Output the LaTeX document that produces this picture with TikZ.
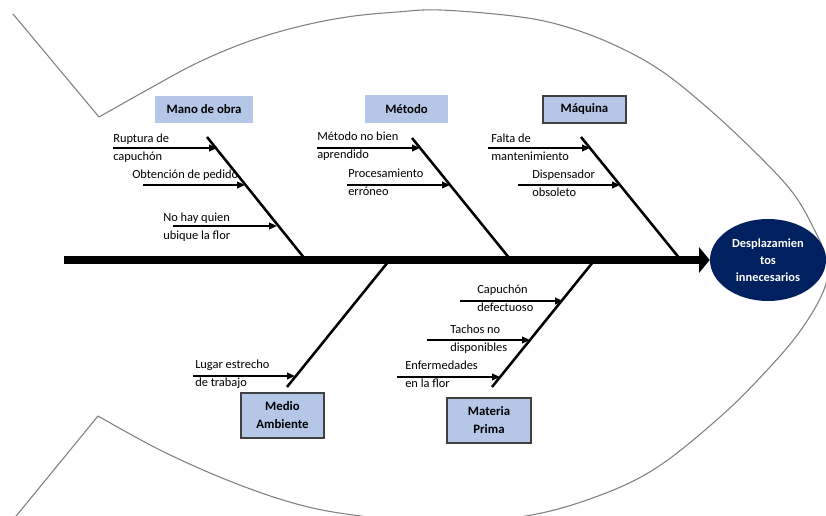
\documentclass[tikz,border=0pt]{standalone}
\usepackage{fontspec}
\setmainfont{Carlito}
\usetikzlibrary{arrows.meta,shapes.geometric}

\definecolor{catfill}{RGB}{180,199,231}
\definecolor{headfill}{RGB}{0,32,96}
\definecolor{fishline}{RGB}{128,128,128}
\definecolor{boxedge}{RGB}{64,64,64}

\begin{document}
\begin{tikzpicture}[x=0.75pt,y=-0.75pt,
  cause/.style={font=\fontsize{9.3}{13.5}\selectfont, align=left, anchor=west, inner sep=0pt},
  category/.style={fill=catfill, font=\bfseries\fontsize{9.6}{13.5}\selectfont, align=center, inner sep=0pt},
  framed/.style={draw=boxedge, line width=0.8pt},
  bone/.style={line width=1.9pt},
  subarrow/.style={line width=1.5pt, -{Triangle[length=6pt,width=5pt]}},
  fishbody/.style={draw=fishline, line width=0.8pt}
]
\useasboundingbox (0,0) rectangle (826,516);
\fill[white] (0,0) rectangle (826,516);
\clip (0,0) rectangle (826,516);

% ---- fish outline: tail strokes and body ----
\draw[fishbody] (13,14) -- (99,117);
\draw[fishbody] (98,416) -- (8,526);
\draw[fishbody] plot[smooth, tension=0.6] coordinates {
  (99,117) (147,90) (197,63) (247,42) (297,27) (347,17) (397,12) (440,10)
  (513,16) (560,25) (610,43) (660,70) (710,110) (760,157) (793,193)
  (813,227) (826,258) (825,287) (803,327) (770,367) (720,417) (653,470)
  (587,500) (520,517) (440,523) (353,515) (293,503) (227,480) (160,450) (98,416)};

% ---- head (effect) ----
\node[ellipse, fill=headfill, minimum width=87pt, minimum height=61.5pt, inner sep=0pt,
      text=white, font=\bfseries\fontsize{9.3}{12.75}\selectfont, align=center]
  (head) at (768,260) {Desplazamien\\tos\\innecesarios};

% ---- spine ----
\coordinate (tail) at (64,260);
\draw[line width=6pt, -{Triangle[length=8pt,width=19pt]}] (tail) -- (head.west);

% ---- category boxes ----
\node[category, minimum width=73.5pt, minimum height=20.25pt] (mano) at (204,109.5) {Mano de obra};
\node[category, minimum width=62.25pt, minimum height=21pt] (metodo) at (406.5,109) {Método};
\node[category, framed, minimum width=62.25pt, minimum height=20.25pt] (maquina) at (584.5,109.5) {Máquina};
\node[category, framed, minimum width=62.25pt, minimum height=33.75pt] (medio) at (282.5,415.5) {Medio\\Ambiente};
\node[category, framed, minimum width=63pt, minimum height=33.75pt] (materia) at (489,420.5) {Materia\\Prima};

% ---- main bones ----
\coordinate (manoTop) at (207,137);   \coordinate (manoEnd) at (305,259);
\coordinate (metTop) at (412,138);    \coordinate (metEnd) at (510,259);
\coordinate (maqTop) at (581,137);    \coordinate (maqEnd) at (680,259);
\coordinate (medEnd) at (388,262);    \coordinate (medLow) at (287,387);
\coordinate (matEnd) at (593,262);    \coordinate (matLow) at (492,387);
\draw[bone] (manoTop) -- (manoEnd);
\draw[bone] (metTop) -- (metEnd);
\draw[bone] (maqTop) -- (maqEnd);
\draw[bone] (medEnd) -- (medLow);
\draw[bone] (matEnd) -- (matLow);

% ---- Mano de obra causes ----
\node[cause] (c1) at (113,148) {Ruptura de\\capuchón};
\node[cause] (c2) at (132,175) {Obtención de pedido};
\node[cause] (c3) at (163,227) {No hay quien\\ubique la flor};
\coordinate (c1s) at (113,148); \coordinate (c1e) at (217,148);
\coordinate (c2s) at (143,185); \coordinate (c2e) at (245,185);
\coordinate (c3s) at (173,226); \coordinate (c3e) at (277,226);
\draw[subarrow] (c1s) -- (c1e);
\draw[subarrow] (c2s) -- (c2e);
\draw[subarrow] (c3s) -- (c3e);

% ---- Método causes ----
\node[cause] (c4) at (317,146) {Método no bien\\aprendido};
\node[cause] (c5) at (348,182) {Procesamiento\\erróneo};
\coordinate (c4s) at (317,148); \coordinate (c4e) at (420,148);
\coordinate (c5s) at (347,185); \coordinate (c5e) at (450,185);
\draw[subarrow] (c4s) -- (c4e);
\draw[subarrow] (c5s) -- (c5e);

% ---- Máquina causes ----
\node[cause] (c6) at (491,147) {Falta de\\mantenimiento};
\node[cause] (c7) at (532,183) {Dispensador\\obsoleto};
\coordinate (c6s) at (488,148); \coordinate (c6e) at (590,148);
\coordinate (c7s) at (518,185); \coordinate (c7e) at (620,185);
\draw[subarrow] (c6s) -- (c6e);
\draw[subarrow] (c7s) -- (c7e);

% ---- Medio Ambiente cause ----
\node[cause] (c8) at (195,374) {Lugar estrecho\\de trabajo};
\coordinate (c8s) at (193,376); \coordinate (c8e) at (295,376);
\draw[subarrow] (c8s) -- (c8e);

% ---- Materia Prima causes ----
\node[cause] (c9) at (477,298) {Capuchón\\defectuoso};
\node[cause] (c10) at (450,339) {Tachos no\\disponibles};
\node[cause] (c11) at (405,374) {Enfermedades\\en la flor};
\coordinate (c9s) at (460,301);  \coordinate (c9e) at (563,301);
\coordinate (c10s) at (427,340); \coordinate (c10e) at (530,340);
\coordinate (c11s) at (397,377); \coordinate (c11e) at (500,377);
\draw[subarrow] (c9s) -- (c9e);
\draw[subarrow] (c10s) -- (c10e);
\draw[subarrow] (c11s) -- (c11e);
\end{tikzpicture}
\end{document}
